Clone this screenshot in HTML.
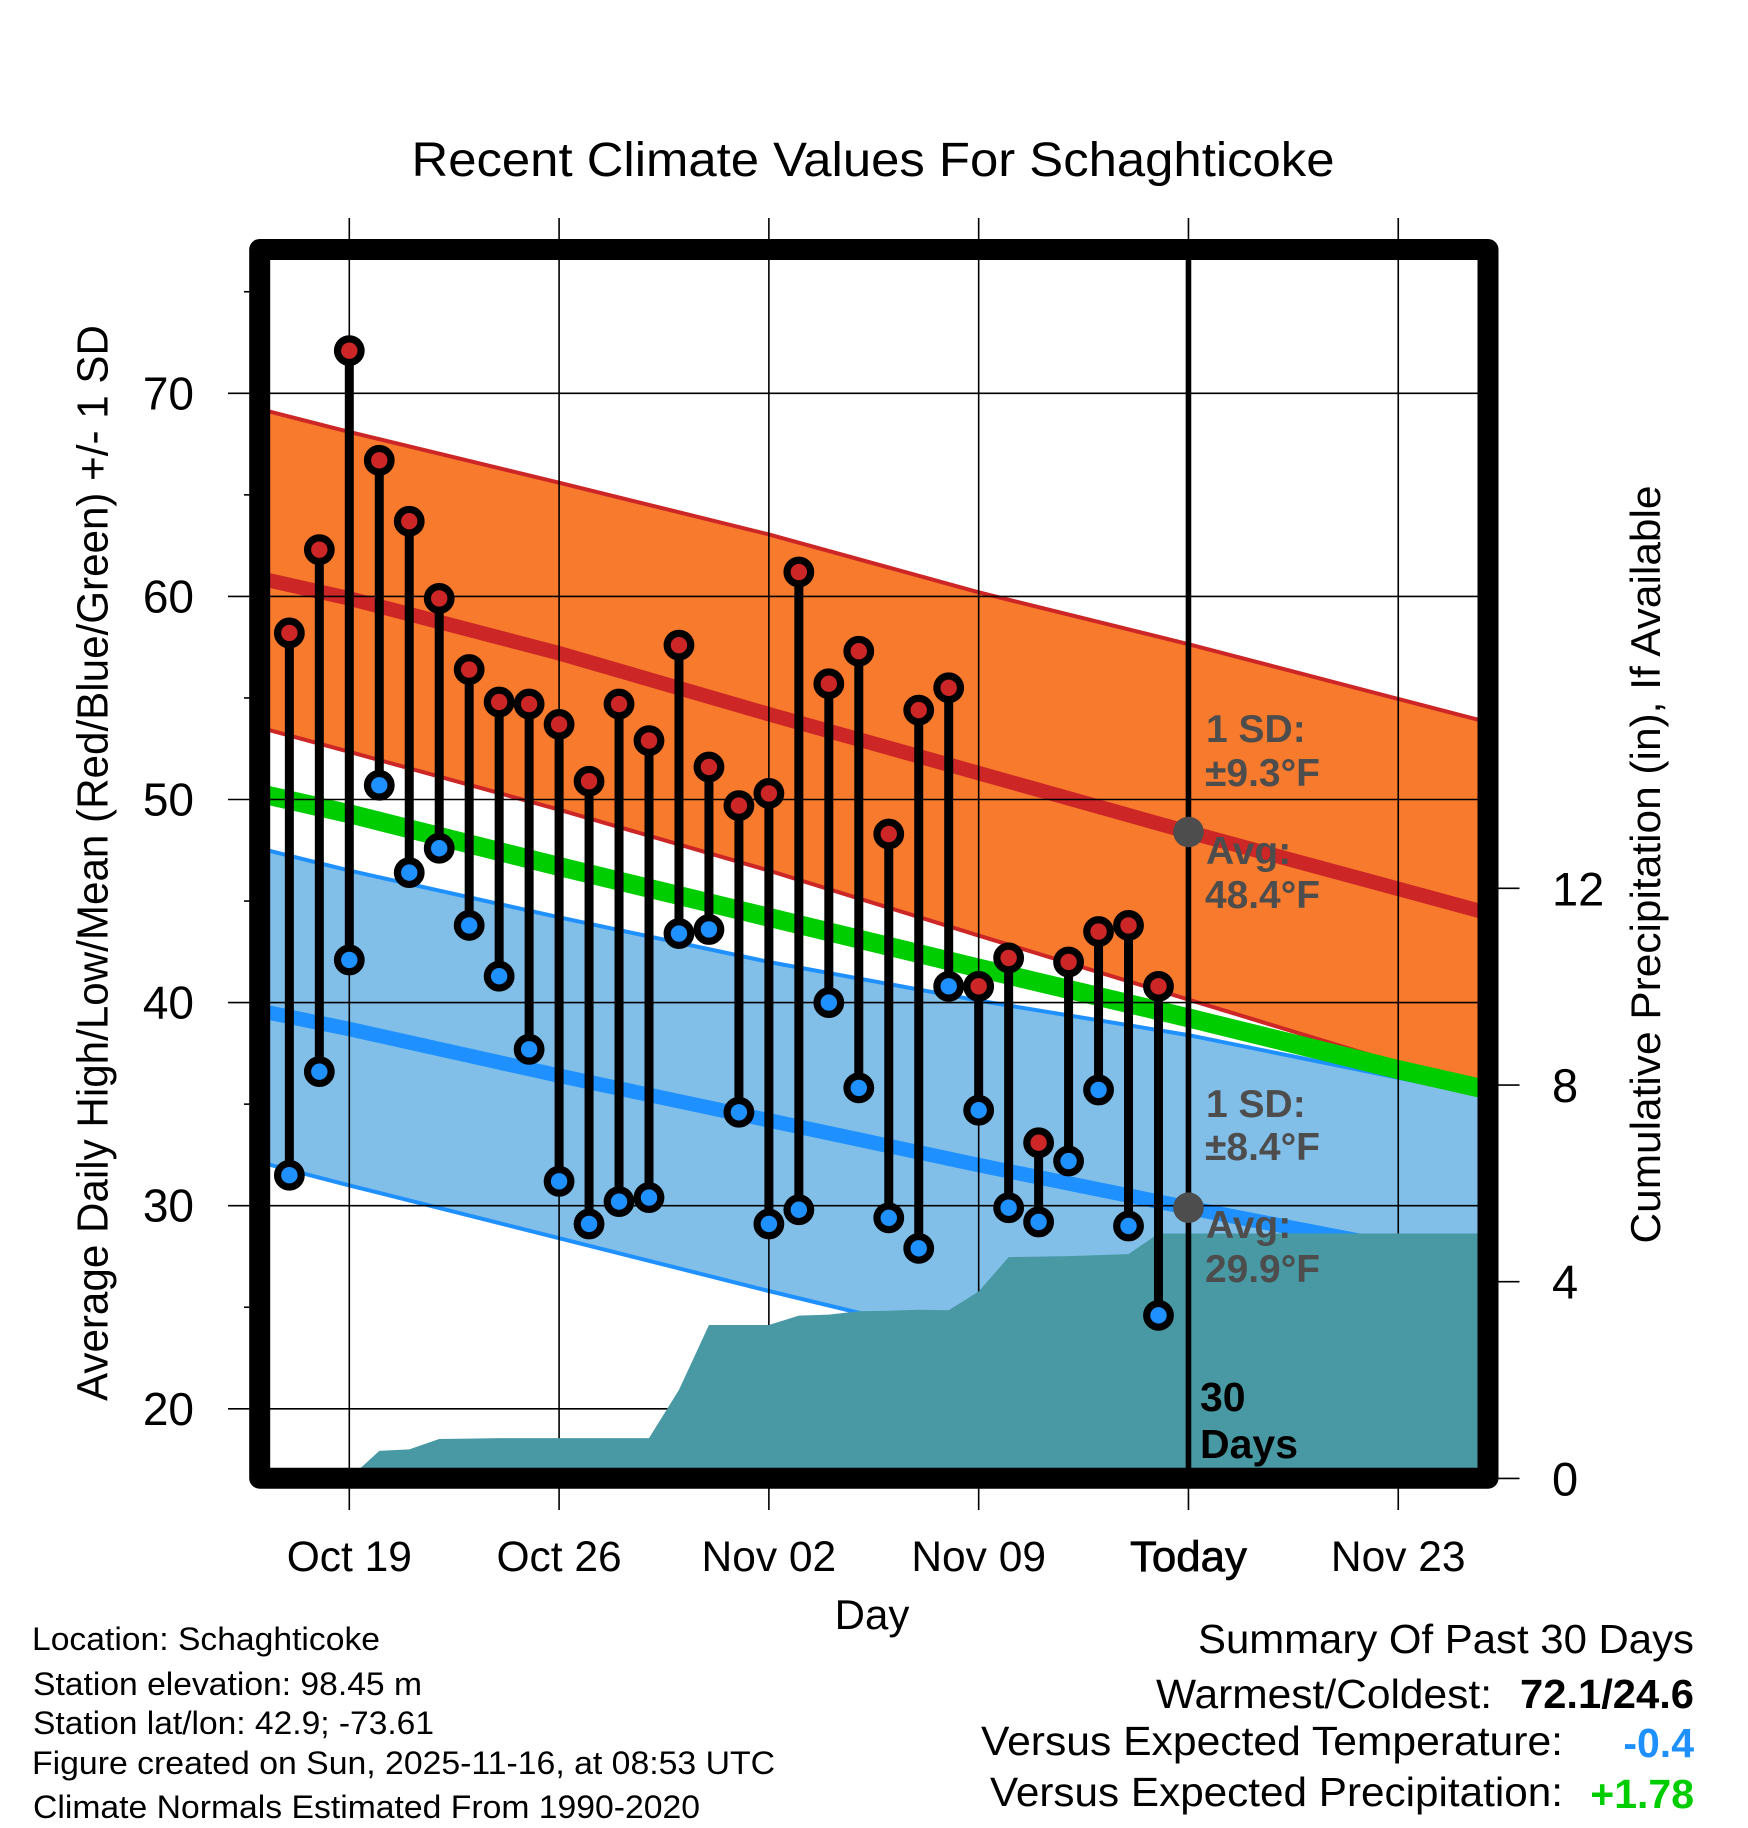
<!DOCTYPE html>
<html lang="en">
<head>
<meta charset="utf-8">
<title>Recent Climate Values For Schaghticoke</title>
<style>
html,body{margin:0;padding:0;background:#fff;width:1748px;height:1828px;overflow:hidden}
svg{display:block}
text{font-family:"Liberation Sans",sans-serif;fill:#000}
.ann{font-weight:bold;fill:#4d4d4d;font-size:39px}
.days{font-weight:bold;font-size:41px}
.info{font-size:32.5px}
.sum{font-size:41px;text-anchor:end}
.sumv{font-size:41px;font-weight:bold;text-anchor:end}
</style>
</head>
<body>
<svg id="chart" xmlns="http://www.w3.org/2000/svg" width="1748" height="1828" viewBox="0 0 1748 1828">
  <defs>
    <clipPath id="plot-clip"><rect x="270" y="260" width="1208" height="1208"></rect></clipPath>
  </defs>
  <rect x="0" y="0" width="1748" height="1828" fill="#ffffff"></rect>
  <g id="bands" clip-path="url(#plot-clip)"></g>
  <g id="grid"></g>
  <g id="precip" clip-path="url(#plot-clip)"></g>
  <g id="marks" clip-path="url(#plot-clip)"></g>
  <g id="labels"></g>

  <rect x="259.7" y="249.5" width="1228.3" height="1228.7" fill="none" stroke="#000" stroke-width="21" stroke-linejoin="round"></rect>

  <text x="873" y="176" font-size="48" text-anchor="middle" textLength="923" lengthAdjust="spacingAndGlyphs">Recent Climate Values For Schaghticoke</text>
  <text transform="translate(107.5 863) rotate(-90)" font-size="44" text-anchor="middle" textLength="1076" lengthAdjust="spacingAndGlyphs">Average Daily High/Low/Mean (Red/Blue/Green) +/- 1 SD</text>
  <text transform="translate(1660 864.5) rotate(-90)" font-size="42" text-anchor="middle" textLength="758" lengthAdjust="spacingAndGlyphs">Cumulative Precipitation (in), If Available</text>
  <text x="872" y="1629" font-size="42" text-anchor="middle">Day</text>

  <text class="ann" x="1206" y="742">1 SD:</text>
  <text class="ann" x="1205" y="786" textLength="115" lengthAdjust="spacingAndGlyphs">±9.3°F</text>
  <text class="ann" x="1206" y="864">Avg:</text>
  <text class="ann" x="1205" y="908" textLength="115" lengthAdjust="spacingAndGlyphs">48.4°F</text>
  <text class="ann" x="1206" y="1117">1 SD:</text>
  <text class="ann" x="1205" y="1160" textLength="115" lengthAdjust="spacingAndGlyphs">±8.4°F</text>
  <text class="ann" x="1206" y="1238">Avg:</text>
  <text class="ann" x="1205" y="1282" textLength="115" lengthAdjust="spacingAndGlyphs">29.9°F</text>
  <text class="days" x="1200" y="1411">30</text>
  <text class="days" x="1200" y="1458">Days</text>

  <text class="info" x="32" y="1650" textLength="348" lengthAdjust="spacingAndGlyphs">Location: Schaghticoke</text>
  <text class="info" x="33" y="1695" textLength="389" lengthAdjust="spacingAndGlyphs">Station elevation: 98.45 m</text>
  <text class="info" x="33" y="1734" textLength="401" lengthAdjust="spacingAndGlyphs">Station lat/lon: 42.9; -73.61</text>
  <text class="info" x="32" y="1774" textLength="743" lengthAdjust="spacingAndGlyphs">Figure created on Sun, 2025-11-16, at 08:53 UTC</text>
  <text class="info" x="33" y="1818" textLength="667" lengthAdjust="spacingAndGlyphs">Climate Normals Estimated From 1990-2020</text>

  <text class="sum" x="1694" y="1653" textLength="496" lengthAdjust="spacingAndGlyphs">Summary Of Past 30 Days</text>
  <text class="sum" x="1492" y="1708" textLength="336" lengthAdjust="spacingAndGlyphs">Warmest/Coldest:</text>
  <text class="sumv" x="1694" y="1708" textLength="174" lengthAdjust="spacingAndGlyphs">72.1/24.6</text>
  <text class="sum" x="1563" y="1755" textLength="582" lengthAdjust="spacingAndGlyphs">Versus Expected Temperature:</text>
  <text class="sumv" x="1694" y="1757" style="fill:#1e90ff">-0.4</text>
  <text class="sum" x="1563" y="1806" textLength="573" lengthAdjust="spacingAndGlyphs">Versus Expected Precipitation:</text>
  <text class="sumv" x="1694" y="1808" style="fill:#00cd00">+1.78</text>
</svg>

<script>
// ---- Chart data ----
// Days are counted from Oct 19 (day 0).
const dataDays = [-2,-1,0,1,2,3,4,5,6,7,8,9,10,11,12,13,14,15,16,17,18,19,20,21,22,23,24,25,26,27];
const dailyHigh = [58.2,62.3,72.1,66.7,63.7,59.9,56.4,54.8,54.7,53.7,50.9,54.7,52.9,57.6,51.6,49.7,50.3,61.2,55.7,57.3,48.3,54.4,55.5,40.8,42.2,33.1,42.0,43.5,43.8,40.8];
const dailyLow = [31.5,36.6,42.1,50.7,46.4,47.6,43.8,41.3,37.7,31.2,29.1,30.2,30.4,43.4,43.6,34.6,29.1,29.8,40.0,35.8,29.4,27.9,40.8,34.7,29.9,29.2,32.2,35.7,29.0,24.6];
const cumulativePrecip = [0,0,0,0.56,0.59,0.8,0.81,0.82,0.82,0.82,0.82,0.82,0.82,1.8,3.12,3.12,3.12,3.31,3.33,3.4,3.41,3.43,3.42,3.8,4.5,4.51,4.52,4.54,4.56,4.98];

const normalDays = [-3,0,7,14,21,28,35,38];
const highUpper = [69.23,68.1,65.6,63.05,60.2,57.65,54.95,53.8];
const highMean = [60.9,59.9,57.2,54.2,51.3,48.4,45.6,44.4];
const highLower = [53.55,52.35,49.5,46.5,43.3,40.15,37.0,35.8];
const lowUpper = [47.6,46.5,44.2,42.0,40.1,38.4,36.3,35.4];
const lowMean = [39.6,38.7,36.4,34.2,32.0,29.9,27.9,27.0];
const lowLower = [32.15,31.0,28.4,25.8,23.3,21.5,19.5,18.6];
const dailyMean = [50.3,49.3,46.7,44.2,41.7,39.25,36.7,35.7];

const xTickDays = [0,7,14,21,28,35];
const xTickLabels = ["Oct 19","Oct 26","Nov 02","Nov 09","Today","Nov 23"];
const yMajorTicks = [20,30,40,50,60,70];
const yMinorTicks = [25,35,45,55,65,75];
const precipTicks = [0,4,8,12];
const todayDay = 28;
const todayHighAvg = 48.4;
const todayLowAvg = 29.9;

// ---- Axis functions ----
function xScale(day){ return 349.3 + 29.97 * day; }
function yScale(temp){ return 393.3 + (70 - temp) * 20.31; }
function precipScale(inches){ return 1478.4 - 49.17 * inches; }

const SVGNS = "http://www.w3.org/2000/svg";
function make(tag, parent, attrs){
  const el = document.createElementNS(SVGNS, tag);
  for (const key in attrs) el.setAttribute(key, attrs[key]);
  parent.appendChild(el);
  return el;
}
function linePoints(days, values){
  return days.map(function(d, i){ return xScale(d).toFixed(2) + "," + yScale(values[i]).toFixed(2); }).join(" ");
}
function bandPoints(days, upper, lower){
  const top = days.map(function(d, i){ return xScale(d).toFixed(2) + "," + yScale(upper[i]).toFixed(2); });
  const bottom = days.map(function(d, i){ return xScale(d).toFixed(2) + "," + yScale(lower[i]).toFixed(2); }).reverse();
  return top.concat(bottom).join(" ");
}

const bands = document.getElementById("bands");
const grid = document.getElementById("grid");
const precip = document.getElementById("precip");
const marks = document.getElementById("marks");
const labels = document.getElementById("labels");

// ---- Normal bands ----
let el = make("polygon", bands, {points: bandPoints(normalDays, highUpper, highLower), fill: "#f87a2c"});


el = make("polyline", bands, {points: linePoints(normalDays, highUpper), fill: "none", stroke: "#cd2626", "stroke-width": 4});


el = make("polyline", bands, {points: linePoints(normalDays, highLower), fill: "none", stroke: "#cd2626", "stroke-width": 4});


el = make("polyline", bands, {points: linePoints(normalDays, highMean), fill: "none", stroke: "#cd2626", "stroke-width": 14.5});


el = make("polygon", bands, {points: bandPoints(normalDays, lowUpper, lowLower), fill: "#82bfe8"});


el = make("polyline", bands, {points: linePoints(normalDays, lowUpper), fill: "none", stroke: "#1e90ff", "stroke-width": 4});


el = make("polyline", bands, {points: linePoints(normalDays, lowLower), fill: "none", stroke: "#1e90ff", "stroke-width": 4});


el = make("polyline", bands, {points: linePoints(normalDays, lowMean), fill: "none", stroke: "#1e90ff", "stroke-width": 14.5});


el = make("polyline", bands, {points: linePoints(normalDays, dailyMean), fill: "none", stroke: "#00cd00", "stroke-width": 19});



// ---- Grid, ticks and tick labels ----
xTickDays.forEach(function(day, i){
  const gx = xScale(day);
  const g = make("line", grid, {x1: gx, x2: gx, y1: 218, y2: 1510, stroke: "#000", "stroke-width": 1.6});
  
  
  const t = make("text", labels, {x: gx, y: 1571, "font-size": 42.5, "text-anchor": "middle"});
  t.textContent = xTickLabels[i];
  
  
  if (day === todayDay) {
    t.setAttribute("stroke", "#000");
    t.setAttribute("stroke-width", "0.7");
    t.setAttribute("textLength", "117");
    t.setAttribute("lengthAdjust", "spacingAndGlyphs");
  }
});
yMajorTicks.forEach(function(value){
  const gy = yScale(value);
  const g = make("line", grid, {x1: 228, x2: 1478, y1: gy, y2: gy, stroke: "#000", "stroke-width": 1.6});
  
  
  const t = make("text", labels, {x: 194, y: gy + 16, "font-size": 46, "text-anchor": "end"});
  t.textContent = String(value);
  
  
});
yMinorTicks.forEach(function(value){
  const gy = yScale(value);
  const g = make("line", grid, {x1: 244, x2: 252, y1: gy, y2: gy, stroke: "#000", "stroke-width": 1.6});
  
  
});
precipTicks.forEach(function(value){
  const gy = precipScale(value);
  const g = make("line", grid, {x1: 1496, x2: 1519.5, y1: gy, y2: gy, stroke: "#000", "stroke-width": 1.6});
  
  
  const t = make("text", labels, {x: 1552, y: gy + 17, "font-size": 47});
  t.textContent = String(value);
  
  
});

// ---- Cumulative precipitation area ----
const lastPrecip = cumulativePrecip[cumulativePrecip.length - 1];
const plotEndDay = normalDays[normalDays.length - 1];
const areaPts = dataDays.map(function(d, i){ return xScale(d).toFixed(2) + "," + precipScale(cumulativePrecip[i]).toFixed(2); });
areaPts.push(xScale(plotEndDay).toFixed(2) + "," + precipScale(lastPrecip).toFixed(2));
areaPts.push(xScale(plotEndDay).toFixed(2) + "," + precipScale(0).toFixed(2));
areaPts.push(xScale(dataDays[0]).toFixed(2) + "," + precipScale(0).toFixed(2));
el = make("polygon", precip, {points: areaPts.join(" "), fill: "#4899a4"});



// ---- Daily high/low stems and markers ----
dataDays.forEach(function(day, i){
  const sx = xScale(day);
  const stem = make("line", marks, {x1: sx, x2: sx, y1: yScale(dailyHigh[i]), y2: yScale(dailyLow[i]), stroke: "#000", "stroke-width": 9});
  
  
});
dataDays.forEach(function(day, i){
  const sx = xScale(day);
  const hy = yScale(dailyHigh[i]);
  const ly = yScale(dailyLow[i]);
  const highRing = make("circle", marks, {cx: sx, cy: hy, r: 11.8, fill: "#cd2626", stroke: "#000", "stroke-width": 7.2});
  
  
  const lowRing = make("circle", marks, {cx: sx, cy: ly, r: 11.8, fill: "#1e90ff", stroke: "#000", "stroke-width": 7.2});
  
  
});

// ---- Today marker ----
const tx = xScale(todayDay);
el = make("line", marks, {x1: tx, x2: tx, y1: 260, y2: 1468, stroke: "#000", "stroke-width": 5.6});


el = make("circle", marks, {cx: tx, cy: yScale(todayHighAvg), r: 15.3, fill: "#4d4d4d"});


el = make("circle", marks, {cx: tx, cy: yScale(todayLowAvg), r: 15.3, fill: "#4d4d4d"});


</script>
</body>
</html>
